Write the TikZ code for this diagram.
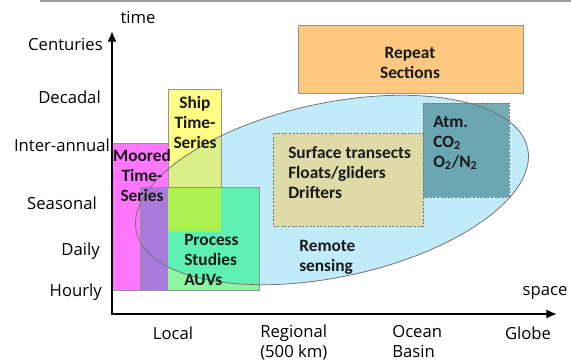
\documentclass[tikz,border=0pt]{standalone}
\usepackage{fontspec}
\setmainfont{Carlito}
\newfontfamily\axisfont{Open Sans}
\usetikzlibrary{arrows.meta}
\definecolor{skyfill}{HTML}{C2EBFA}
\definecolor{mooredfill}{HTML}{FF77FF}
\definecolor{shipfill}{HTML}{FFFF85}
\definecolor{shipsky}{HTML}{DCEE86}
\definecolor{procfill}{HTML}{8CF5A2}
\definecolor{procsky}{HTML}{5EF0B0}
\definecolor{proclime}{HTML}{ABF04E}
\definecolor{procmoored}{HTML}{A97BDB}
\definecolor{surffill}{HTML}{DEDBA8}
\definecolor{atmfill}{HTML}{5597A2}
\definecolor{repeatfill}{HTML}{FCC880}

\tikzset{
  box/.style={draw=gray!85, line width=0.6pt},
  dbox/.style={draw=gray!90!black, line width=0.7pt, dash pattern=on 1.5pt off 1.2pt},
  blob/.style={rotate around={12:(ctr)}},
  axis/.style={line width=2.2pt, line join=miter, {Latex[length=8pt,width=7pt]}-{Latex[length=8pt,width=7pt]}},
  ylbl/.style={font=\axisfont\fontsize{12.5}{14}\selectfont, anchor=east, inner sep=0pt},
  xlbl/.style={font=\axisfont\fontsize{12.5}{15}\selectfont, inner sep=0pt},
  btxt/.style={font=\bfseries\fontsize{13}{15}\selectfont, inner sep=0pt, text=black!90}
}

\begin{document}
\begin{tikzpicture}[x=0.75pt,y=-0.75pt]
  \useasboundingbox (0,0) rectangle (571,362);
  \draw[gray!80, line width=1.5pt] (40,0.5) -- (571,0.5);

  % remote sensing ellipse
  \coordinate (ctr) at (332,190);
  \fill[skyfill, blob] (ctr) ellipse [x radius=200, y radius=87];

  % moored
  \draw[box, fill=mooredfill] (112,143) rectangle (168,290);

  % ship
  \fill[shipfill] (168,89) rectangle (221,231);
  \begin{scope}
    \clip (168,89) rectangle (221,231);
    \fill[shipsky, blob] (ctr) ellipse [x radius=200, y radius=87];
  \end{scope}
  \draw[box] (168,89) rectangle (221,231);

  % process studies
  \begin{scope}
    \clip (140,187) rectangle (259,290);
    \fill[procfill] (140,187) rectangle (259,290);
    \fill[procsky, blob] (ctr) ellipse [x radius=200, y radius=87];
    \fill[proclime] (168,187) rectangle (221,231);
    \fill[procmoored] (140,187) rectangle (168,290);
  \end{scope}
  \draw[box] (140,187) rectangle (259,290);

  % floats etc.
  \draw[dbox, fill=surffill] (273,133) rectangle (423,226);
  \fill[atmfill, opacity=0.8] (423,103) rectangle (509,197);
  \draw[dbox] (423,103) rectangle (509,197);

  % repeat sections
  \draw[box, fill=repeatfill] (298,25) rectangle (523,93);

  \draw[gray!90!black, line width=0.6pt, blob] (ctr) ellipse [x radius=200, y radius=87];

  % axes
  \coordinate (origin) at (112,314);
  \coordinate (ytip) at (112,31);
  \coordinate (xtip) at (557,314);
  \draw[axis] (ytip) -- (origin) -- (xtip);
  \node[xlbl] (time) at (138,17) {time};
  \node[xlbl] (space) at (545,293) {space};

  \node[ylbl] (centuries) at (103,44) {Centuries};
  \node[ylbl] (decadal) at (101,97) {Decadal};
  \node[ylbl] (interannual) at (110,145) {Inter-annual};
  \node[ylbl] (seasonal) at (97,203) {Seasonal};
  \node[ylbl] (daily) at (100,251) {Daily};
  \node[ylbl] (hourly) at (102,292) {Hourly};

  \node[xlbl] (local) at (173,333) {Local};
  \node[xlbl, align=left, anchor=north west] (regional) at (260,325) {Regional\\(500 km)};
  \node[xlbl, align=left, anchor=north west] (basin) at (392,325) {Ocean\\Basin};
  \node[xlbl] (globe) at (528,333) {Globe};

  % box texts
  \node[btxt, align=center] (repeat) at (410,63) {Repeat\\Sections};
  \node[btxt, align=center] (ship) at (195,122) {Ship\\Time-\\Series};
  \node[btxt, align=center] (moored) at (142,175) {Moored\\Time-\\Series};
  \node[btxt, align=left, anchor=west] (process) at (184,260) {Process\\Studies\\AUVs};
  \node[btxt, align=left, anchor=west] (surface) at (288,173) {Surface transects\\Floats/gliders\\Drifters};
  \node[btxt, align=left, anchor=west] (atm) at (433,143) {Atm.\\CO\textsubscript{2}\\O\textsubscript{2}/N\textsubscript{2}};
  \node[btxt, align=left, anchor=west] (remote) at (299,257) {Remote\\sensing};
\end{tikzpicture}
\end{document}
